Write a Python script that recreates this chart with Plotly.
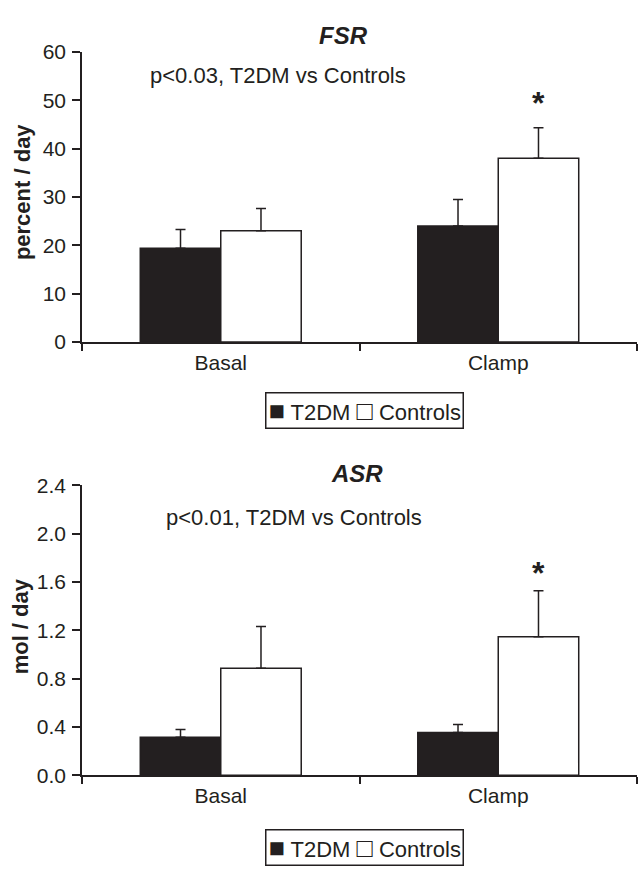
import plotly.graph_objects as go

categories = ["Basal", "Clamp"]
groups = ["T2DM", "Controls"]

fsr_t2dm = [19.4, 24.0]
fsr_t2dm_err = [3.9, 5.5]
fsr_ctrl = [23.0, 38.0]
fsr_ctrl_err = [4.6, 6.3]

asr_t2dm = [0.315, 0.355]
asr_t2dm_err = [0.065, 0.065]
asr_ctrl = [0.885, 1.146]
asr_ctrl_err = [0.345, 0.38]

fsr_ticks = [0, 10, 20, 30, 40, 50, 60]
asr_ticks = [0.0, 0.4, 0.8, 1.2, 1.6, 2.0, 2.4]

fsr_note = "p<0.03, T2DM vs Controls"
asr_note = "p<0.01, T2DM vs Controls"
fsr_star_y = 49.4
asr_star_y = 1.67
fsr_note_y = 55.2
asr_note_y = 2.13

INK = "#231f20"
FONT = "Arial, Liberation Sans, sans-serif"
W, H = 640, 872
BARGAP = 0.42
FS = 21
FS_NOTE = 22

fig = go.Figure()


def add_panel(xa, ya, t2, t2e, ct, cte):
    fig.add_trace(go.Bar(
        x=categories, y=t2, name=groups[0], xaxis=xa, yaxis=ya, showlegend=False,
        marker=dict(color=INK, line=dict(color=INK, width=1.5)),
        error_y=dict(type="data", array=t2e, arrayminus=[0] * len(t2e), symmetric=False,
                     color=INK, thickness=1.5, width=5),
    ))
    fig.add_trace(go.Bar(
        x=categories, y=ct, name=groups[1], xaxis=xa, yaxis=ya, showlegend=False,
        marker=dict(color="white", line=dict(color=INK, width=1.5)),
        error_y=dict(type="data", array=cte, arrayminus=[0] * len(cte), symmetric=False,
                     color=INK, thickness=1.5, width=5),
    ))


add_panel("x", "y", fsr_t2dm, fsr_t2dm_err, fsr_ctrl, fsr_ctrl_err)
add_panel("x2", "y2", asr_t2dm, asr_t2dm_err, asr_ctrl, asr_ctrl_err)

xd = [82 / W, 637 / W]
top_dom = [1 - 339 / H, 1 - 41 / H]
bot_dom = [1 - 784 / H, 1 - 486 / H]

xcommon = dict(
    type="category", range=[-0.5, 1.5], showline=True, linecolor=INK, linewidth=1.5,
    ticks="outside", tickson="boundaries", ticklen=7, tickwidth=1.5, tickcolor=INK,
    tickfont=dict(family=FONT, size=FS, color=INK), showgrid=False, zeroline=False,
    ticklabelstandoff=1,
)
ycommon = dict(
    showline=True, linecolor=INK, linewidth=1.5, ticks="outside", ticklen=8,
    tickwidth=1.5, tickcolor=INK, tickfont=dict(family=FONT, size=FS, color=INK),
    showgrid=False, zeroline=False, ticklabelstandoff=2,
)

fig.update_layout(
    width=W, height=H, margin=dict(l=0, r=0, t=0, b=0),
    paper_bgcolor="white", plot_bgcolor="white",
    barmode="group", bargap=BARGAP, bargroupgap=0,
    font=dict(family=FONT, color=INK),
    xaxis=dict(domain=xd, anchor="y", **xcommon),
    yaxis=dict(domain=top_dom, anchor="x", range=[0, 60], tickvals=fsr_ticks, **ycommon),
    xaxis2=dict(domain=xd, anchor="y2", **xcommon),
    yaxis2=dict(domain=bot_dom, anchor="x2", range=[0, 2.4], tickvals=asr_ticks,
                tickformat=".1f", **ycommon),
    showlegend=False,
)

star_dx = (1 - BARGAP) / 4
SQ = "<span style='font-size:27px'>%s</span>"
legend_text = (SQ % "\u25A0") + " " + groups[0] + " " + (SQ % "\u25A1") + " " + groups[1]


def note(text, **kw):
    base = dict(text=text, showarrow=False, xanchor="center", yanchor="middle",
                font=dict(family=FONT, size=FS_NOTE, color=INK))
    base.update(kw)
    return base


ann = [
    note("<b><i>FSR</i></b>", x=343 / W, y=1 - 24 / H, xref="paper", yref="paper",
         font=dict(family=FONT, size=24, color=INK)),
    note("<b><i>ASR</i></b>", x=357 / W, y=1 - 474 / H, xref="paper", yref="paper",
         font=dict(family=FONT, size=24, color=INK)),
    note("<b>percent / day</b>", x=22 / W, y=1 - 185 / H, xref="paper", yref="paper",
         textangle=-90),
    note("<b>mol / day</b>", x=20 / W, y=1 - 631 / H, xref="paper", yref="paper",
         textangle=-90),
    note(fsr_note, x=148 / W, xanchor="left", y=fsr_note_y, xref="paper", yref="y"),
    note(asr_note, x=164 / W, xanchor="left", y=asr_note_y, xref="paper", yref="y2"),
    note("<b>*</b>", x=1 + star_dx, y=fsr_star_y, xref="x", yref="y",
         font=dict(family=FONT, size=32, color=INK)),
    note("<b>*</b>", x=1 + star_dx, y=asr_star_y, xref="x2", yref="y2",
         font=dict(family=FONT, size=32, color=INK)),
    note(legend_text, x=364 / W, y=1 - 409 / H, xref="paper", yref="paper",
         bordercolor=INK, borderwidth=1.5, borderpad=2, bgcolor="white"),
    note(legend_text, x=364 / W, y=1 - 858 / H, xref="paper", yref="paper",
         bordercolor=INK, borderwidth=1.5, borderpad=2, bgcolor="white"),
]
fig.update_layout(annotations=ann)

fig.write_html("out.html")
